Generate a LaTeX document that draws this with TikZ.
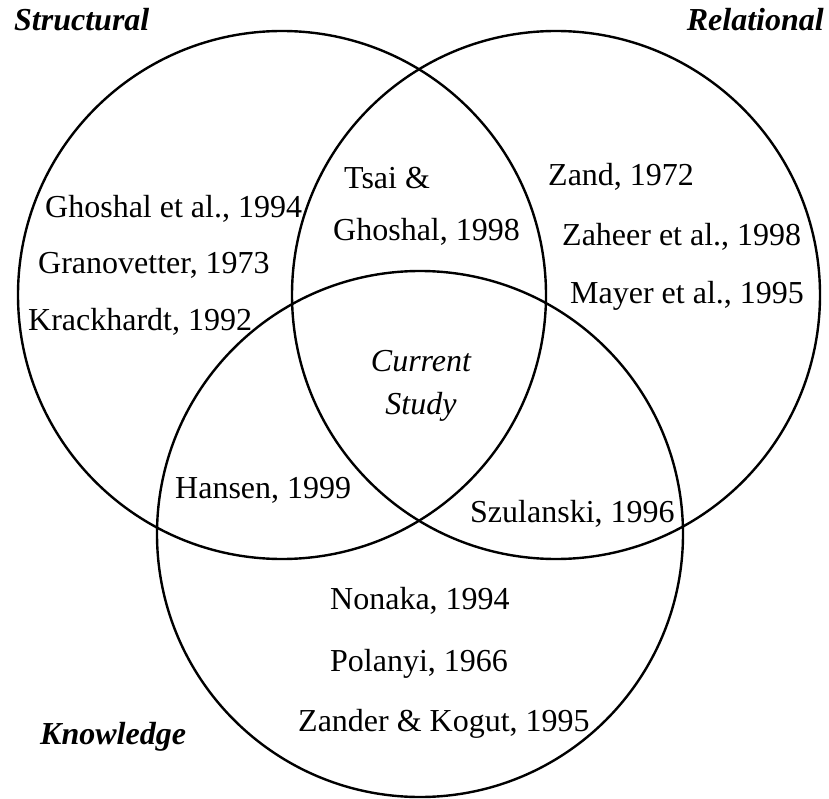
\documentclass[tikz,border=0pt]{standalone}
\usepackage{fontspec}
\setmainfont{Liberation Serif}
\begin{document}
\begin{tikzpicture}[x=1pt,y=-1pt,
  ring/.style={draw=black,line width=2.4pt},
  ref/.style={font=\fontsize{32}{38}\selectfont,anchor=base west,inner sep=0pt},
  refc/.style={font=\fontsize{32}{38}\selectfont\itshape,anchor=base,inner sep=0pt},
  head/.style={font=\fontsize{32}{38}\selectfont\bfseries\itshape,inner sep=0pt}]
\useasboundingbox[fill=white] (0,0) rectangle (829,799);
\draw[ring] (282,295) circle[radius=264];
\draw[ring] (556,295) circle[radius=264];
\draw[ring] (420,534) circle[radius=263];
\node[head,anchor=base west] (hs) at (14,31) {Structural};
\node[head,anchor=base east] (hr) at (824,31) {Relational};
\node[head,anchor=base west] (hk) at (40,744) {Knowledge};
\node[ref] (g1) at (45,218) {Ghoshal et al., 1994};
\node[ref] (g2) at (38,274) {Granovetter, 1973};
\node[ref] (k1) at (28,330) {Krackhardt, 1992};
\node[ref] (t1) at (344,189) {Tsai \&};
\node[ref] (t2) at (333,241) {Ghoshal, 1998};
\node[ref] (z1) at (548,186) {Zand, 1972};
\node[ref] (z2) at (562,246) {Zaheer et al., 1998};
\node[ref] (m1) at (570,304) {Mayer et al., 1995};
\node[refc] (c1) at (421,371) {Current};
\node[refc] (c2) at (421,414) {Study};
\node[ref] (h1) at (175,498) {Hansen, 1999};
\node[ref] (s1) at (470,522) {Szulanski, 1996};
\node[ref] (n1) at (330,609) {Nonaka, 1994};
\node[ref] (p1) at (330,671) {Polanyi, 1966};
\node[ref] (zk) at (298,731) {Zander \& Kogut, 1995};
\end{tikzpicture}
\end{document}
